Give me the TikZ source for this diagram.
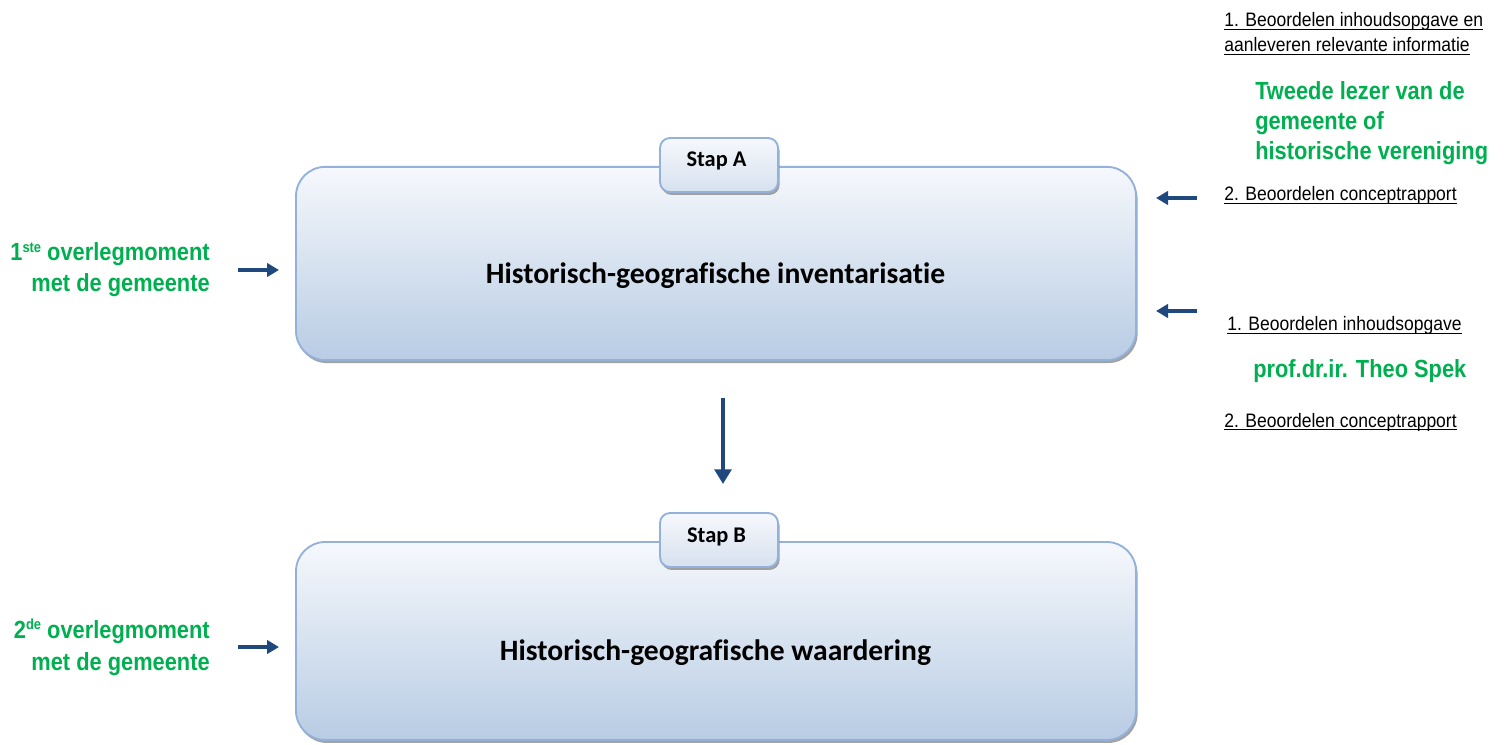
\documentclass[tikz,border=0pt]{standalone}
\usepackage{fontspec}
\usetikzlibrary{arrows.meta,shadows}
\newfontfamily\calfont[Ligatures=NoCommon]{Carlito}
\newfontfamily\arfont[FakeStretch=0.9]{Liberation Sans}
\newfontfamily\arbfont[FakeStretch=0.88]{Liberation Sans Bold}
\definecolor{boxtop}{HTML}{F6F8FC}
\definecolor{boxbot}{HTML}{B8CCE4}
\definecolor{boxline}{HTML}{93B1D9}
\definecolor{tabbot}{HTML}{D6E1EF}
\definecolor{arrblue}{HTML}{1F497D}
\definecolor{wgreen}{HTML}{00B050}
\newcommand\myul[1]{\setbox0\hbox{#1}\rlap{\rule[-2.6pt]{\wd0}{0.9pt}}\box0}
\newcommand\mysup[1]{\raisebox{0.36em}{\fontsize{11}{11}\selectfont #1}}
\tikzset{
  bigbox/.style={shade, top color=boxtop, bottom color=boxbot, draw=boxline, line width=1.4pt,
    rounded corners=22pt, minimum width=630pt, minimum height=145pt, inner sep=0pt,
    drop shadow={shadow xshift=1.2pt, shadow yshift=-2.2pt, fill=black!45, opacity=0.8}},
  tabbox/.style={shade, top color=boxtop, bottom color=tabbot, draw=boxline, line width=1.4pt,
    rounded corners=7.5pt, minimum width=88.5pt, minimum height=40.5pt, inner sep=0pt,
    drop shadow={shadow xshift=1.2pt, shadow yshift=-2.2pt, fill=black!45, opacity=0.8}},
  maintext/.style={font=\calfont\bfseries\fontsize{22.2}{26}\selectfont, anchor=base, inner sep=0pt},
  staptext/.style={font=\calfont\bfseries\fontsize{16.8}{19}\selectfont, anchor=base, inner sep=0pt},
  blacktext/.style={font=\arfont\fontsize{14.6}{18}\selectfont, anchor=base west, inner sep=0pt},
  greentext/.style={font=\arbfont\fontsize{18.6}{22}\selectfont, text=wgreen, anchor=base west, inner sep=0pt},
  lefttext/.style={font=\arbfont\fontsize{18.6}{22}\selectfont, text=wgreen, anchor=base east, inner sep=0pt},
  bigarr/.style={draw=arrblue, line width=3pt, -{Triangle[width=12.5pt,length=11pt]}},
  smallarr/.style={draw=arrblue, line width=2.3pt, -{Triangle[width=10pt,length=9pt]}}
}
\begin{document}
\begin{tikzpicture}[x=0.75pt,y=-0.75pt]
\useasboundingbox[fill=white] (0,0) rectangle (1504,745);
% boxes
\node[bigbox] (boxA) at (716,263.5) {};
\node[tabbox] (tabA) at (719,165) {};
\node[staptext] (stapA) at (716.5,167) {Stap A};
\node[maintext] (mainA) at (715.5,284) {Historisch-geografische inventarisatie};
\node[bigbox, minimum height=148.5pt] (boxB) at (716,641) {};
\node[tabbox] (tabB) at (719,540) {};
\node[staptext] (stapB) at (716.5,542) {Stap B};
\node[maintext] (mainB) at (715.5,660) {Historisch-geografische waardering};
% down arrow
\coordinate (dS) at (723,398);
\coordinate (dE) at (723,484);
\draw[bigarr] (dS) -- (dE);
% left texts
\node[lefttext] (l1a) at (210,261) {1\mysup{ste} overlegmoment};
\node[lefttext] (l1b) at (210,292) {met de gemeente};
\node[lefttext] (l2a) at (210,638) {2\mysup{de} overlegmoment};
\node[lefttext] (l2b) at (210,670) {met de gemeente};
\coordinate (a1s) at (238,270);
\coordinate (a1e) at (279,270);
\draw[smallarr] (a1s) -- (a1e);
\coordinate (a2s) at (238,647);
\coordinate (a2e) at (279,647);
\draw[smallarr] (a2s) -- (a2e);
% right texts
\node[blacktext] (r1a) at (1224,27) {\myul{1. Beoordelen inhoudsopgave en}};
\node[blacktext] (r1b) at (1224,52) {\myul{aanleveren relevante informatie}};
\node[greentext] (g1) at (1255,100) {Tweede lezer van de};
\node[greentext] (g2) at (1255,130) {gemeente of};
\node[greentext] (g3) at (1255,160) {historische vereniging};
\node[blacktext] (r2) at (1224,201) {\myul{2. Beoordelen conceptrapport}};
\node[blacktext] (r3) at (1227,331) {\myul{1. Beoordelen inhoudsopgave}};
\node[greentext] (g4) at (1253,378) {prof.dr.ir. Theo Spek};
\node[blacktext] (r4) at (1224,427) {\myul{2. Beoordelen conceptrapport}};
\coordinate (b1s) at (1197,198);
\coordinate (b1e) at (1156,198);
\draw[smallarr] (b1s) -- (b1e);
\coordinate (b2s) at (1197,311);
\coordinate (b2e) at (1156,311);
\draw[smallarr] (b2s) -- (b2e);
\end{tikzpicture}
\end{document}
